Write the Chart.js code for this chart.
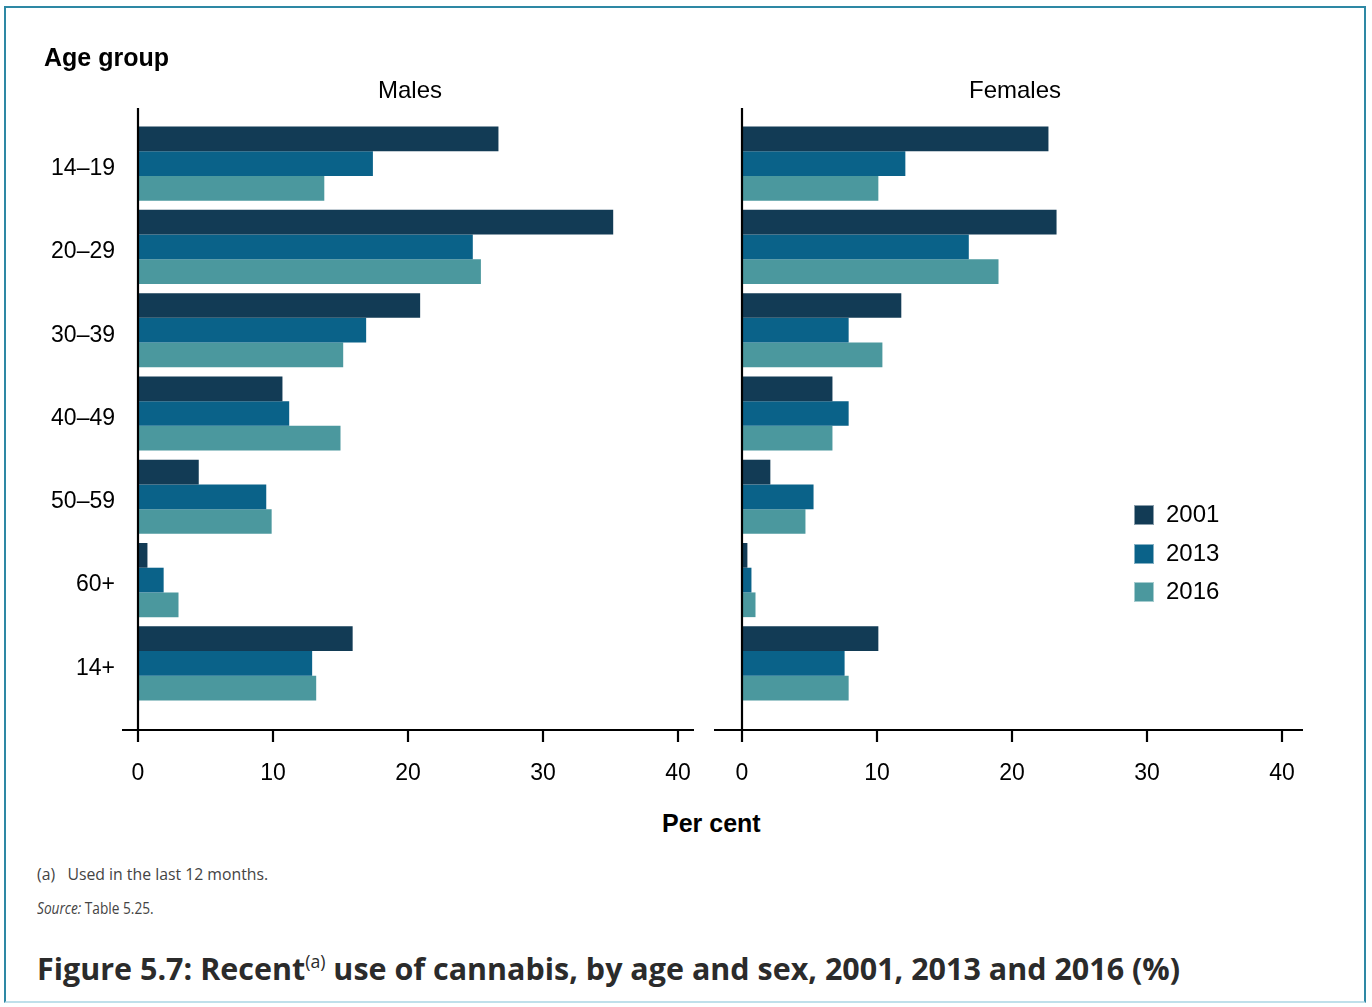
<!DOCTYPE html>
<html>
<head>
<meta charset="utf-8">
<script src="https://cdn.jsdelivr.net/npm/chart.js@4.4.0/dist/chart.umd.min.js"></script>
<style>
  html, body { margin: 0; padding: 0; background: #fff; }
  body { width: 1372px; height: 1007px; position: relative; overflow: hidden; font-family: "Liberation Sans", Arial, sans-serif; }
  .frame { position: absolute; left: 4px; top: 6px; width: 1358px; height: 993px; border: 2px solid #2e88a4; border-bottom-color: #bfe0ea; }
  .abs { position: absolute; white-space: nowrap; }
  #males { position: absolute; left: 0; top: 0; }
  #females { position: absolute; left: 700px; top: 0; }
  .fit { display: inline-block; transform-origin: 0 50%; }
  .legend-item { position: absolute; left: 1134px; font-size: 24px; color: #000; }
  .legend-item span.box { position: absolute; left: 0; top: 0; width: 18px; height: 18px; border: 1px solid rgba(255,255,255,0.5); }
  .legend-item span.lbl { position: absolute; left: 32px; top: -5px; }
  .note { font-family: 'Open Sans', sans-serif; font-weight: 400; font-size: 16px; color: #444; }
</style>
</head>
<body>
<div class="frame"></div>
<canvas id="males" width="700" height="800"></canvas>
<canvas id="females" width="620" height="800"></canvas>

<div class="abs" style="left:44px; top:43px; font-size:25px; font-weight:bold;">Age group</div>
<div class="abs" style="left:378px; top:76px; font-size:24px;">Males</div>
<div class="abs" style="left:969px; top:76px; font-size:24px;">Females</div>
<div class="abs" style="left:662px; top:809px; font-size:25px; font-weight:bold;">Per cent</div>
<div id="legend"></div>

<div class="abs note" style="left:37px; top:863px;"><span class="fit" id="note">(a)&nbsp;&nbsp; Used in the last 12 months.</span></div>
<div class="abs note" style="left:37px; top:897px;"><span class="fit" id="source"><i>Source:</i> Table 5.25.</span></div>
<div class="abs" style="left:37px; top:941px; font-family:'Open Sans',sans-serif; font-weight:bold; font-size:31px; color:#2b2b2b; line-height:40px;"><span class="fit" id="title">Figure 5.7: Recent<sup style="font-size:18px; font-weight:normal; vertical-align:12px;">(a)</sup> use of cannabis, by age and sex, 2001, 2013 and 2016 (%)</span></div>

<script>
const ageGroups = ['14–19', '20–29', '30–39', '40–49', '50–59', '60+', '14+'];
const years = ['2001', '2013', '2016'];
const yearColors = ['#123b55', '#0a6289', '#4b989e'];

const males2001 = [26.7, 35.2, 20.9, 10.7, 4.5, 0.7, 15.9];
const males2013 = [17.4, 24.8, 16.9, 11.2, 9.5, 1.9, 12.9];
const males2016 = [13.8, 25.4, 15.2, 15.0, 9.9, 3.0, 13.2];

const females2001 = [22.7, 23.3, 11.8, 6.7, 2.1, 0.4, 10.1];
const females2013 = [12.1, 16.8, 7.9, 7.9, 5.3, 0.7, 7.6];
const females2016 = [10.1, 19.0, 10.4, 6.7, 4.7, 1.0, 7.9];

// draws the black axis lines and tick marks, using the x scale for positions
const axisLines = {
  id: 'axisLines',
  afterDraw(chart, args, opts) {
    const ctx = chart.ctx;
    const xs = chart.scales.x;
    const area = chart.chartArea;
    const x0 = xs.getPixelForValue(0);
    const yAxis = area.bottom + 25;
    ctx.save();
    ctx.strokeStyle = '#000';
    ctx.lineWidth = 2.2;
    ctx.beginPath();
    ctx.moveTo(x0, area.top - 14);
    ctx.lineTo(x0, yAxis);
    ctx.moveTo(area.left - opts.extLeft, yAxis);
    ctx.lineTo(area.right + opts.extRight, yAxis);
    xs.ticks.forEach(t => {
      const px = xs.getPixelForValue(t.value);
      ctx.moveTo(px, yAxis);
      ctx.lineTo(px, yAxis + 12);
    });
    ctx.stroke();
    ctx.restore();
  }
};

function makeDatasets(a, b, c) {
  return [a, b, c].map((d, i) => ({
    label: years[i],
    data: d,
    backgroundColor: yearColors[i],
    borderWidth: 0,
    categoryPercentage: 0.89,
    barPercentage: 1.0
  }));
}

function makeChart(id, data, showLabels, pad, ext) {
  const ctx = document.getElementById(id).getContext('2d');
  return new Chart(ctx, {
    type: 'bar',
    data: { labels: ageGroups, datasets: data },
    options: {
      indexAxis: 'y',
      responsive: false,
      animation: false,
      layout: { padding: pad },
      plugins: { legend: { display: false }, tooltip: { enabled: false }, axisLines: ext },
      scales: {
        x: {
          min: 0, max: 40,
          // invisible tick marks push the labels down without widening the side padding
          grid: { display: true, drawOnChartArea: false, drawTicks: true, tickLength: 55, color: 'rgba(0,0,0,0)' },
          border: { display: false },
          ticks: {
            stepSize: 10,
            padding: 0,
            color: '#000',
            font: { family: '"Liberation Sans", Arial, sans-serif', size: 23 }
          },
          afterFit(s) { s.height = 95; }
        },
        y: {
          display: showLabels,
          grid: { display: false, drawTicks: false },
          border: { display: false },
          ticks: {
            padding: 23,
            labelOffset: 5,
            color: '#000',
            font: { family: '"Liberation Sans", Arial, sans-serif', size: 23 }
          },
          afterFit(s) { if (showLabels) s.width = 138; }
        }
      }
    },
    plugins: [axisLines]
  });
}

makeChart('males', makeDatasets(males2001, males2013, males2016), true,
  { top: 122, right: 22, left: 0, bottom: 0 }, { extLeft: 16, extRight: 16 });
makeChart('females', makeDatasets(females2001, females2013, females2016), false,
  { top: 122, right: 38, left: 42, bottom: 0 }, { extLeft: 28, extRight: 21 });

// legend
const legend = document.getElementById('legend');
years.forEach((y, i) => {
  const item = document.createElement('div');
  item.className = 'legend-item';
  item.style.top = (505 + i * 38.5) + 'px';
  item.innerHTML = '<span class="box" style="background:' + yearColors[i] + '"></span><span class="lbl">' + y + '</span>';
  legend.appendChild(item);
});

function fitWidth(id, w) {
  const el = document.getElementById(id);
  el.style.transform = 'scaleX(' + (w / el.scrollWidth) + ')';
}
fitWidth('note', 231);
fitWidth('source', 117);
fitWidth('title', 1143);
</script>
</body>
</html>
